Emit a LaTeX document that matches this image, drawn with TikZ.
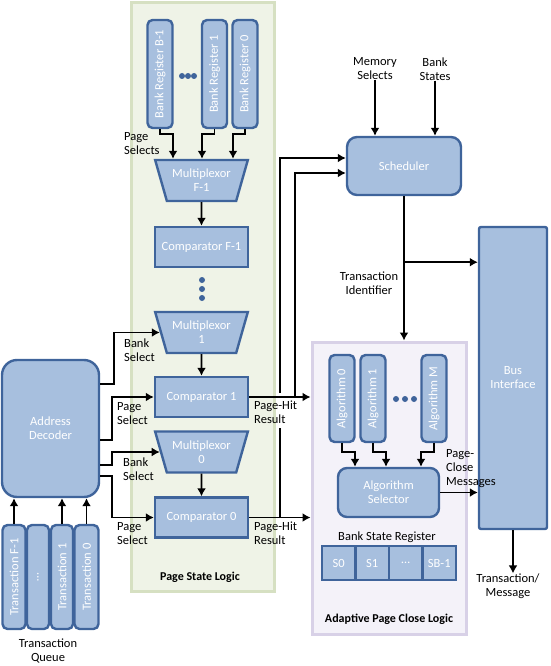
\documentclass[tikz,border=0pt]{standalone}
\usepackage{fontspec}
\setmainfont{Carlito}
\usepackage{tikz}
\usetikzlibrary{positioning}
\usetikzlibrary{calc,shapes.geometric}
\usetikzlibrary{arrows.meta}
\definecolor{boxfill}{RGB}{167,191,222}
\definecolor{boxline}{RGB}{63,100,155}
\definecolor{greenfill}{RGB}{239,243,231}
\definecolor{greenline}{RGB}{214,224,194}
\definecolor{lilacfill}{RGB}{244,242,249}
\definecolor{lilacline}{RGB}{216,209,231}
\tikzset{>=latex}
\newcommand{\vtxt}[1]{\rotatebox{90}{#1}}
\tikzset{
  blk/.style={draw=boxline, fill=boxfill, line width=2.4pt, text=white,
    font=\fontsize{12.5}{14}\selectfont, align=center, inner sep=1pt},
  rblk/.style={blk, rounded corners=5pt},
  vreg/.style={rblk, minimum width=25, minimum height=108},
  mux/.style={blk, trapezium, trapezium left angle=67.5, trapezium right angle=67.5,
    shape border rotate=180, trapezium stretches=true, minimum width=93, minimum height=41},
  cmp/.style={blk, minimum width=93, minimum height=40},
  lbl/.style={font=\fontsize{12.5}{14}\selectfont, align=left, inner sep=0pt},
  ttl/.style={font=\bfseries\fontsize{12}{14}\selectfont, inner sep=0pt},
  conn/.style={line width=1.6pt, -{Latex[length=8pt,width=9pt]}},
  dot/.style={circle, fill=boxline, inner sep=0pt, minimum size=6}
}

\begin{document}
\begin{tikzpicture}[x=1pt,y=-1pt]
\useasboundingbox (0,0) rectangle (550,666);

% ---------------- Panels ----------------
\node[draw=greenline, fill=greenfill, line width=3pt, minimum width=143, minimum height=588] (psl) at (202.5,297) {};
\node[draw=lilacline, fill=lilacfill, line width=3pt, minimum width=154, minimum height=292] (apcl) at (389,488) {};
\node[ttl] (psltitle) at (200,577) {Page State Logic};
\node[ttl] (apcltitle) at (389,619) {Adaptive Page Close Logic};

% ---------------- Page state logic ----------------
\node[vreg] (bregB) at (160,74) {\vtxt{Bank Register B-1}};
\node[vreg] (breg1) at (214.5,74) {\vtxt{Bank Register 1}};
\node[vreg] (breg0) at (245,74) {\vtxt{Bank Register 0}};
\foreach \x in {182,188,194}{
  \node[dot] (bd\x) at (\x,76) {};
}

\node[mux] (muxf) at (201.5,180.5) {Multiplexor\\F-1};
\node[cmp] (cmpf) at (201.5,247) {Comparator F-1};
\foreach \y in {280,289,298}{
  \node[dot] (vd\y) at (202,\y) {};
}
\node[mux] (mux1) at (201.5,332.5) {Multiplexor\\1};
\node[cmp] (cmp1) at (201.5,397) {Comparator 1};
\node[mux] (mux0) at (201.5,452) {Multiplexor\\0};
\node[cmp] (cmp0) at (201.5,517.5) {Comparator 0};

% ---------------- Decoder and queue ----------------
\node[blk, rounded corners=15pt, minimum width=97, minimum height=137] (dec) at (50.5,428.5) {Address\\Decoder};
\node[vreg, minimum width=23, minimum height=104] (tqF) at (14,577) {\vtxt{Transaction F-1}};
\node[vreg, minimum width=22, minimum height=104] (tqx) at (38,577) {\vtxt{\ldots}};
\node[vreg, minimum width=22, minimum height=104] (tq1) at (62,577) {\vtxt{Transaction 1}};
\node[vreg, minimum width=24, minimum height=104] (tq0) at (86.5,577) {\vtxt{Transaction 0}};

% ---------------- Scheduler and bus ----------------
\node[blk, rounded corners=10pt, minimum width=114, minimum height=58] (sched) at (404,166) {Scheduler};
\node[blk, rounded corners=2pt, minimum width=68, minimum height=302] (bus) at (513,378) {Bus\\Interface};

% ---------------- Adaptive page close logic ----------------
\node[vreg, minimum height=87] (alg0) at (342,398.5) {\vtxt{Algorithm 0}};
\node[vreg, minimum height=87] (alg1) at (373,398.5) {\vtxt{Algorithm 1}};
\node[vreg, minimum height=87] (algm) at (434,398.5) {\vtxt{Algorithm M}};
\foreach \x in {396,405,414}{
  \node[dot] (ad\x) at (\x,399) {};
}
\node[blk, rounded corners=9pt, minimum width=101, minimum height=49] (sel) at (388.5,492.5) {Algorithm\\Selector};

\node[lbl, align=center] (bsr) at (387,537) {Bank State Register};
\node[blk, minimum width=33.5, minimum height=34] (s0) at (338.75,563) {S0};
\node[blk, minimum width=33.5, minimum height=34] (s1) at (372.25,563) {S1};
\node[blk, minimum width=33.5, minimum height=34] (sx) at (405.75,563) {\ldots};
\node[blk, minimum width=33.5, minimum height=34] (sb) at (439.25,563) {SB-1};

% ---------------- Connectors ----------------
\draw[conn] (bregB.south) -- ++(0,5) -| ([xshift=-28.5pt]muxf.north);
\draw[conn] (breg1.south) -- ++(0,5) -| ([xshift=0.5pt]muxf.north);
\draw[conn] (breg0.south) -- ++(0,5) -| ([xshift=31.5pt]muxf.north);

\draw[conn] (muxf.south) -- (cmpf.north);
\draw[conn] (mux1.south) -- (cmp1.north);
\draw[conn] (mux0.south) -- (cmp0.north);

\draw[conn] ([yshift=44.5pt]dec.east) -- ++(14,0) |- (mux1.west);
\draw[conn] ([yshift=-11.5pt]dec.east) -- ++(12,0) |- (cmp1.west);
\draw[conn] ([yshift=-36.5pt]dec.east) -- ++(12,0) |- (mux0.west);
\draw[conn] ([yshift=-47.5pt]dec.east) -- ++(12,0) |- (cmp0.west);

\foreach \n in {tqF,tq1,tq0}{
  \draw[conn] (\n.north) -- (\n.north |- dec.south);
}

\draw[conn] (cmp1.east) -- (cmp1.east -| apcl.west);
\draw[conn] (cmp0.east) -- (cmp0.east -| apcl.west);
\draw[conn] (cmp1.east) ++(46,0) |- ([yshift=-7pt]sched.west);
\draw[conn] (cmp0.east) ++(31,0) -- ++(0,-90) ++(0,-35) |- ([yshift=8pt]sched.west);

\node[lbl, align=center] (memsel) at (375,69) {Memory\\Selects};
\node[lbl, align=center] (bstat) at (435,69) {Bank\\States};
\draw[conn] (memsel.south) -- (memsel.south |- sched.north);
\draw[conn] (bstat.south) -- (bstat.south |- sched.north);

\coordinate (tid) at ([yshift=-66pt]sched.south);
\draw[conn] (sched.south) -- (sched.south |- apcl.north);
\draw[conn] (tid) -- (tid -| bus.west);

\draw[conn] (alg0.south) -- ++(0,9) -| ([xshift=-33.5pt]sel.north);
\draw[conn] (alg1.south) -- ++(0,9) -| ([xshift=-2.5pt]sel.north);
\draw[conn] (algm.south) -- ++(0,9) -| ([xshift=32.5pt]sel.north);
\draw[conn] (sel.east) -- (sel.east -| bus.west);

\node[lbl, align=center] (tmsg) at (508,586) {Transaction/\\Message};
\draw[conn] (bus.south) -- (bus.south |- tmsg.north);

% ---------------- Labels ----------------
\node[lbl, anchor=west] (lpsel) at (124,144) {Page\\Selects};
\node[lbl, anchor=west] (lbs1) at (124,350) {Bank\\Select};
\node[lbl, anchor=west] (lps1) at (117,414) {Page\\Select};
\node[lbl, anchor=west] (lbs0) at (123,469.5) {Bank\\Select};
\node[lbl, anchor=west] (lps0) at (117,534) {Page\\Select};
\node[lbl, anchor=west] (lhit1) at (254,412) {Page-Hit\\Result};
\node[lbl, anchor=west] (lhit0) at (254,533) {Page-Hit\\Result};
\node[lbl, align=center] (ltid) at (369,283) {Transaction\\Identifier};
\node[lbl, anchor=west] (lpcm) at (446,469) {Page-\\Close\\Messages};
\node[lbl, align=center] (tq) at (48,651) {Transaction\\Queue};

\end{tikzpicture}
\end{document}
